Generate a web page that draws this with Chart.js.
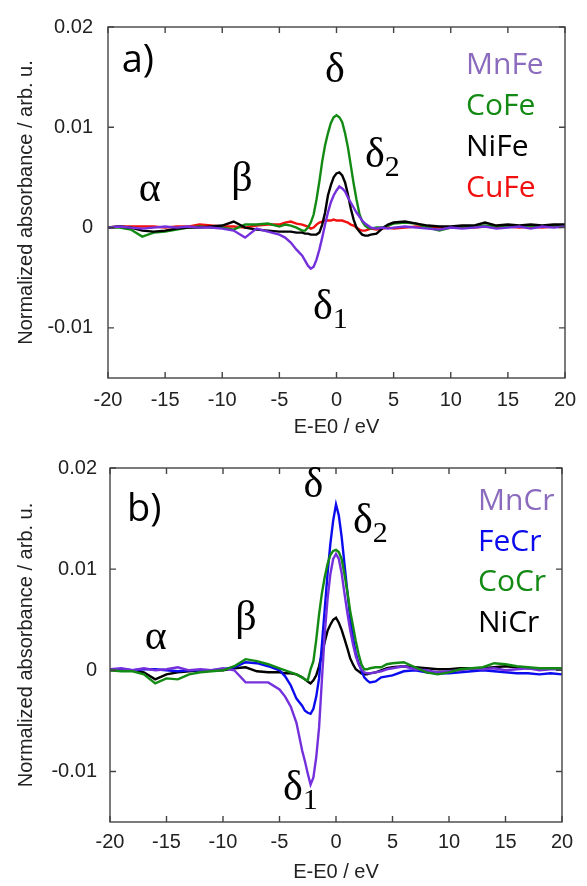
<!DOCTYPE html>
<html>
<head>
<meta charset="utf-8">
<script src="https://cdn.jsdelivr.net/npm/chart.js@4.4.0/dist/chart.umd.min.js"></script>
<style>
  body { margin: 0; background: #fff; }
  .panel { position: absolute; left: 0; width: 587px; height: 443px; }
  #pa { top: 0; }
  #pb { top: 443px; }
</style>
</head>
<body>
<div class="panel" id="pa"><canvas id="chartA"></canvas></div>
<div class="panel" id="pb"><canvas id="chartB"></canvas></div>
<script>
// photon energy relative to the edge, eV
const energy = [-20,-19,-18,-17,-16,-15,-14,-13,-12,-11,-10,-9,-8,-7,-6,-5,
  -4.5,-4,-3.5,
  -3,-2.75,-2.5,-2.25,-2,-1.75,-1.5,-1.25,-1,-0.75,-0.5,-0.25,0,0.25,0.5,0.75,1,1.25,1.5,1.75,2,2.25,2.5,2.75,3,
  3.5,4,4.5,
  5,6,7,8,9,10,11,12,13,14,15,16,17,18,19,20];

const xTicks = [-20,-15,-10,-5,0,5,10,15,20];
const yTicks = [-0.01,0,0.01,0.02];

// panel a)
const mnFe = [0,0.0001,0,-0.0001,0,0.0001,0,0.0001,0,0,-0.0001,-0.0003,-0.001,-0.0001,-0.0004,-0.0007,
  -0.001,-0.0015,-0.0022,
  -0.0028,-0.0033,-0.0038,-0.0041,-0.0039,-0.0032,-0.0022,-0.001,0.0003,0.0015,0.0025,0.0032,0.0037,0.0041,0.0039,0.0036,0.003,0.0025,0.002,0.0015,0.0011,0.0007,0.0004,0.0002,0,
  -0.0001,0,-0.0001,
  0,0.0001,0,-0.0001,-0.0002,0,-0.0001,0,0.0001,-0.0001,0,0.0001,-0.0001,0.0001,0,0.0001];
const coFe = [0,0,-0.0002,-0.0009,-0.0005,-0.0004,-0.0002,0,0.0001,0,0,-0.0002,0.0003,0.0003,0.0004,0.0001,
  0.0003,0.0002,0,
  -0.0003,-0.0003,0,0.0005,0.0013,0.0028,0.0046,0.0066,0.0082,0.0094,0.0104,0.011,0.0112,0.011,0.0105,0.0094,0.008,0.0062,0.0044,0.0028,0.0014,0.0006,0.0002,0,-0.0001,
  0,0,0.0002,
  0.0004,0.0005,0.0004,0,-0.0003,0,0.0001,0.0001,0.0002,0.0001,0.0002,0.0001,0.0002,0.0001,0.0002,0.0002];
const niFe = [0,0.0001,0,-0.0003,-0.0004,-0.0003,-0.0001,0,0,0.0001,0.0002,0.0006,0,-0.0002,-0.0003,-0.0004,
  -0.0004,-0.0004,-0.0005,
  -0.0005,-0.0006,-0.0006,-0.0007,-0.0007,-0.0007,-0.0005,0.0003,0.0015,0.0032,0.0042,0.005,0.0054,0.0055,0.0052,0.0045,0.0033,0.0019,0.0008,0,-0.0004,-0.0007,-0.0008,-0.0008,-0.0007,
  -0.0006,-0.0001,0.0003,
  0.0005,0.0006,0.0004,0.0002,0.0001,0.0001,0.0002,0.0002,0.0005,0.0002,0.0003,0.0002,0.0003,0.0002,0.0003,0.0003];
const cuFe = [0,0.0001,0.0001,0.0001,0.0001,0,0.0001,0.0001,0.0003,0.0002,0.0001,0.0001,0,0.0002,0.0003,0.0003,
  0.0005,0.0006,0.0004,
  0.0003,0.0002,0.0001,-0.0001,0,0.0003,0.0005,0.0006,0.0007,0.0007,0.0007,0.0008,0.0007,0.0007,0.0007,0.0006,0.0005,0.0003,0.0002,0,-0.0002,-0.0003,-0.0003,-0.0002,-0.0001,
  -0.0002,-0.0001,0,
  -0.0001,0,0.0001,0,0,0,0.0001,0,0.0001,0,0.0001,0,0.0001,0,0.0001,0.0001];

// panel b)
const mnCr = [0.0001,0.0002,0,0.0002,0,0.0001,0.0003,0,0.0001,0,0.0002,0,-0.0012,-0.0012,-0.0012,-0.0019,
  -0.0026,-0.0036,-0.0052,
  -0.0079,-0.009,-0.0102,-0.0113,-0.0106,-0.0086,-0.0057,-0.001,0.0036,0.007,0.0095,0.011,0.0115,0.011,0.0096,0.0076,0.0057,0.004,0.0026,0.0014,0.0006,0.0001,-0.0002,-0.0003,-0.0003,
  -0.0002,-0.0001,0.0001,
  0.0002,0.0004,0.0001,0,-0.0002,-0.0001,0,0.0002,0.0001,0.0002,0,0.0001,0.0002,0,0.0001,0.0001];
const feCr = [0.0001,0.0001,0,0.0001,0.0001,0,-0.0001,0,0,0,0.0001,0.0003,0.0008,0.0007,0.0004,0,
  -0.0006,-0.0015,-0.0028,
  -0.0035,-0.004,-0.0042,-0.0043,-0.0038,-0.0026,-0.0008,0.0025,0.006,0.0095,0.0125,0.0148,0.0164,0.0153,0.0132,0.0105,0.0078,0.0052,0.0032,0.0017,0.0007,0,-0.0007,-0.001,-0.0012,
  -0.0011,-0.0007,-0.0006,
  -0.0005,-0.0001,0,-0.0002,-0.0003,-0.0003,-0.0002,-0.0001,0,-0.0001,-0.0002,-0.0003,-0.0003,-0.0004,-0.0003,-0.0004];
const coCr = [0,-0.0001,-0.0001,-0.0004,-0.0013,-0.0008,-0.0009,-0.0004,-0.0002,-0.0001,0,0.0004,0.0011,0.0009,0.0006,0.0002,
  0,-0.0002,-0.0004,
  -0.0007,-0.0009,-0.001,0.0001,0.0009,0.003,0.0055,0.0076,0.0092,0.0105,0.0114,0.0118,0.0119,0.0117,0.011,0.0095,0.0078,0.0059,0.0044,0.0029,0.0016,0.0006,0.0001,0.0001,0.0002,
  0.0003,0.0003,0.0006,
  0.0007,0.0008,0.0003,-0.0002,-0.0004,-0.0002,0.0001,0.0002,0.0003,0.0007,0.0006,0.0004,0.0003,0.0002,0.0002,0.0002];
const niCr = [0,0,0,-0.0002,-0.0009,-0.0004,-0.0002,-0.0001,0,0,0,0.0002,0.0003,-0.0001,-0.0002,-0.0002,
  -0.0003,-0.0003,-0.0004,
  -0.0007,-0.0009,-0.0011,-0.0013,-0.001,-0.0005,0.0004,0.0016,0.0028,0.0039,0.0045,0.005,0.0052,0.0047,0.004,0.0031,0.0022,0.0012,0.0006,0.0001,-0.0001,-0.0003,-0.0004,-0.0004,-0.0003,
  -0.0002,0,0.0002,
  0.0003,0.0004,0.0003,0.0002,0.0001,0.0001,0.0002,0.0002,0.0002,0.0003,0.0004,0.0003,0.0002,0.0002,0.0002,0.0002];

const PURPLE = '#7430dc', GREEN = '#138a13', BLACK = '#000000', RED = '#f01010', BLUE = '#0b0bee';
const LEGEND_PURPLE = '#8a6bbe';

const sansFont = '"Liberation Sans", Arial, sans-serif';
const serif = '"Liberation Serif", "Times New Roman", serif';

// frame, inward ticks, peak labels and the coloured legend
const decor = {
  id: 'decor',
  afterDraw(chart, args, opts) {
    const { ctx, chartArea: a, scales: { x, y } } = chart;
    ctx.save();
    ctx.strokeStyle = '#444';
    ctx.lineWidth = 1.4;
    ctx.strokeRect(a.left, a.top, a.right - a.left, a.bottom - a.top);
    ctx.beginPath();
    xTicks.forEach(v => {
      const px = x.getPixelForValue(v);
      ctx.moveTo(px, a.bottom); ctx.lineTo(px, a.bottom - 6);
      ctx.moveTo(px, a.top); ctx.lineTo(px, a.top + 6);
    });
    yTicks.forEach(v => {
      const py = y.getPixelForValue(v);
      ctx.moveTo(a.left, py); ctx.lineTo(a.left + 6, py);
      ctx.moveTo(a.right, py); ctx.lineTo(a.right - 6, py);
    });
    ctx.stroke();

    ctx.fillStyle = '#000';
    ctx.textBaseline = 'alphabetic';
    opts.notes.forEach(n => {
      const px = x.getPixelForValue(n.x), py = y.getPixelForValue(n.y);
      ctx.font = n.font;
      ctx.textAlign = n.align || 'left';
      ctx.fillText(n.text, px, py);
      if (n.sub) {
        const w = ctx.measureText(n.text).width;
        ctx.font = '30px ' + serif;
        ctx.textAlign = 'left';
        ctx.fillText(n.sub, px + w, py + 9);
      }
    });

    ctx.font = '30px "Open Sans", sans-serif';
    ctx.textAlign = 'left';
    opts.legend.forEach((item, i) => {
      ctx.fillStyle = item.color;
      ctx.fillText(item.text, a.left + opts.legendX, a.top + opts.legendY + i * opts.legendStep);
    });
    ctx.restore();
  }
};

function makeChart(id, series, cfg) {
  return new Chart(document.getElementById(id), {
    type: 'line',
    data: {
      datasets: series.map(s => ({
        label: s.label,
        data: energy.map((e, i) => ({ x: e, y: s.values[i] })),
        borderColor: s.color,
        borderWidth: 2.4,
        pointRadius: 0,
        tension: 0
      }))
    },
    options: {
      responsive: true,
      maintainAspectRatio: false,
      animation: false,
      layout: { padding: cfg.padding },
      plugins: {
        legend: { display: false },
        tooltip: { enabled: false },
        decor: cfg.decor
      },
      scales: {
        x: {
          type: 'linear',
          min: -20,
          max: 20,
          afterBuildTicks: s => { s.ticks = xTicks.map(v => ({ value: v })); },
          afterFit: s => { s.height = cfg.xHeight; },
          grid: { display: false, drawTicks: false },
          border: { display: false },
          ticks: { padding: cfg.xPad, maxRotation: 0, autoSkip: false, color: '#222', font: { family: sansFont, size: 20 } },
          title: { display: true, text: 'E-E0 / eV', color: '#222', font: { family: sansFont, size: 20 }, padding: { top: 0, bottom: cfg.titlePad } }
        },
        y: {
          type: 'linear',
          min: -0.015,
          max: 0.02,
          afterBuildTicks: s => { s.ticks = yTicks.map(v => ({ value: v })); },
          afterFit: s => { s.width = cfg.yWidth; },
          grid: { display: false, drawTicks: false },
          border: { display: false },
          ticks: { padding: cfg.yPad, color: '#222', font: { family: sansFont, size: 20 }, callback: v => String(v) },
          title: { display: true, text: 'Normalized absorbance / arb. u.', color: '#222', font: { family: sansFont, size: 20 }, padding: { top: 14, bottom: 0 } }
        }
      }
    },
    plugins: [decor]
  });
}

const greek = '42px ' + serif;
const panelFont = '38px "Open Sans", sans-serif';

makeChart('chartA', [
  { label: 'MnFe', values: mnFe, color: PURPLE },
  { label: 'NiFe', values: niFe, color: BLACK },
  { label: 'CoFe', values: coFe, color: GREEN },
  { label: 'CuFe', values: cuFe, color: RED }
], {
  padding: { left: 0, right: 22, top: 19, bottom: 0 },
  yWidth: 108, xHeight: 65, xPad: 10, yPad: 15, titlePad: 4,
  decor: {
    notes: [
      { text: 'a)', x: -18.8, y: 0.0155, font: panelFont },
      { text: 'α', x: -16.35, y: 0.0026, font: greek, align: 'center' },
      { text: 'β', x: -8.27, y: 0.0036, font: greek, align: 'center' },
      { text: 'δ', x: -0.15, y: 0.0145, font: greek, align: 'center' },
      { text: 'δ', sub: '2', x: 2.5, y: 0.006, font: greek },
      { text: 'δ', sub: '1', x: -2.05, y: -0.0091, font: greek }
    ],
    legendX: 358, legendY: 47, legendStep: 40.9,
    legend: [
      { text: 'MnFe', color: LEGEND_PURPLE },
      { text: 'CoFe', color: GREEN },
      { text: 'NiFe', color: BLACK },
      { text: 'CuFe', color: RED }
    ]
  }
});

makeChart('chartB', [
  { label: 'CoCr', values: coCr, color: GREEN },
  { label: 'MnCr', values: mnCr, color: PURPLE },
  { label: 'FeCr', values: feCr, color: BLUE },
  { label: 'NiCr', values: niCr, color: BLACK }
], {
  padding: { left: 0, right: 25, top: 23, bottom: 0 },
  yWidth: 110, xHeight: 64, xPad: 8, yPad: 13, titlePad: 2,
  decor: {
    notes: [
      { text: 'b)', x: -18.5, y: 0.0148, font: panelFont },
      { text: 'α', x: -15.95, y: 0.0021, font: greek, align: 'center' },
      { text: 'β', x: -7.98, y: 0.004, font: greek, align: 'center' },
      { text: 'δ', x: -1.99, y: 0.0171, font: greek, align: 'center' },
      { text: 'δ', sub: '2', x: 1.5, y: 0.0136, font: greek },
      { text: 'δ', sub: '1', x: -4.7, y: -0.0128, font: greek }
    ],
    legendX: 368, legendY: 42, legendStep: 40.6,
    legend: [
      { text: 'MnCr', color: LEGEND_PURPLE },
      { text: 'FeCr', color: BLUE },
      { text: 'CoCr', color: GREEN },
      { text: 'NiCr', color: BLACK }
    ]
  }
});
</script>
</body>
</html>
